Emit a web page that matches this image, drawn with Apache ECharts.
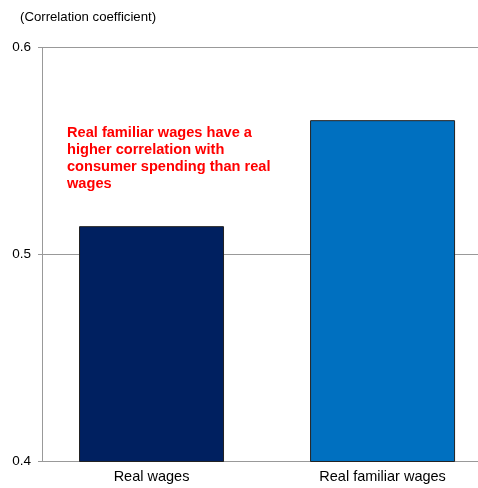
<!DOCTYPE html>
<html><head><meta charset="utf-8">
<script src="https://cdn.jsdelivr.net/npm/echarts@6/dist/echarts.min.js"></script>
<style>html,body{margin:0;padding:0;background:#fff}#c{width:478px;height:488px}</style>
</head><body><div id="c"></div>
<script>
const categories = ['Real wages', 'Real familiar wages'];
const values = [0.5137, 0.5649];
const colors = ['#002060', '#0070C0'];
const yTicks = [0.4, 0.5, 0.6];
const unitLabel = '(Correlation coefficient)';
const noteLines = ['Real familiar wages have a', 'higher correlation with', 'consumer spending than real', 'wages'];

const chart = echarts.init(document.getElementById('c'));
const font = '"Liberation Sans", Arial, sans-serif';
chart.setOption({
  animation: false,
  grid: {left: 42, right: 0, top: 47.5, bottom: 26.5, containLabel: false},
  xAxis: {
    type: 'value', min: -0.474, max: 1.413,
    axisLine: {show: true, onZero: false, lineStyle: {color: '#999', width: 1}},
    axisTick: {show: false},
    splitLine: {show: false},
    axisLabel: {customValues: [0, 1], formatter: v => categories[Math.round(v)] || '',
      color: '#000', fontSize: 14.5, fontFamily: font, margin: 8}
  },
  yAxis: {
    type: 'value', min: yTicks[0], max: yTicks[yTicks.length - 1], interval: 0.1,
    axisLine: {show: true, onZero: false, lineStyle: {color: '#999', width: 1}},
    axisTick: {show: true, length: 4, lineStyle: {color: '#999'}},
    splitLine: {show: true, lineStyle: {color: '#999', width: 1}},
    axisLabel: {formatter: v => v.toFixed(1), color: '#000', fontSize: 13.5, fontFamily: font, margin: 11}
  },
  graphic: [
    {type: 'text', left: 20, top: 11, style: {text: unitLabel, fill: '#000', font: '13.2px ' + font}},
    {type: 'text', left: 67, top: 124, style: {text: noteLines.join('\n'), fill: '#ff0000',
      font: 'bold 14.6px ' + font, lineHeight: 17.2}}
  ],
  series: [{
    type: 'bar', barWidth: 145,
    data: values.map((v, i) => ({value: [i, v], itemStyle: {color: colors[i], borderColor: '#222', borderWidth: 1}}))
  }]
});
</script></body></html>
